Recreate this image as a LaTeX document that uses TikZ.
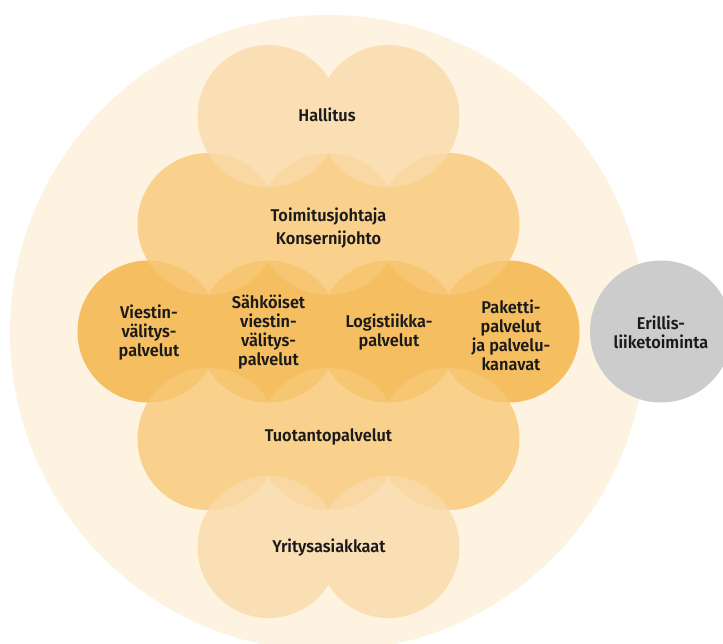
\documentclass[tikz,border=0pt]{standalone}
\usepackage{fontspec}
\setmainfont{Fira Sans}[UprightFont={* SemiBold}, FakeStretch=0.96]
\definecolor{bgc}{RGB}{254,242,224}
\definecolor{rowthree}{RGB}{245,190,96}
\definecolor{rowmid}{RGB}{248,200,120}
\definecolor{rowtop}{RGB}{251,219,169}
\definecolor{greyc}{RGB}{204,204,204}
\definecolor{txt}{RGB}{26,26,26}
\begin{document}
\begin{tikzpicture}[x=1pt,y=-1pt,
  lbl/.style={text=txt, align=center, font=\fontsize{17}{19}\selectfont, inner sep=0pt},
  wide/.style={font=\fontsize{17}{23.3}\selectfont}]
\useasboundingbox (0,0) rectangle (723,643);
\clip (0,0) rectangle (723,643);
% background circle
\fill[bgc] (328,333) circle[radius=318];
% row 3 (services)
\fill[rowthree] (148.5,331.5) circle[radius=71] (268.5,331.5) circle[radius=71]
  (388.5,331.5) circle[radius=71] (508.5,331.5) circle[radius=71];
% rows 2 and 4
\fill[rowmid, fill opacity=0.8]
  (208.5,224) circle[radius=71] (328.5,224) circle[radius=71] (448.5,224) circle[radius=71]
  (208.5,439) circle[radius=71] (328.5,439) circle[radius=71] (448.5,439) circle[radius=71];
% rows 1 and 5
\fill[rowtop, fill opacity=0.8]
  (268.5,116) circle[radius=71] (388.5,116) circle[radius=71]
  (268.5,547) circle[radius=71] (388.5,547) circle[radius=71];
% separate business
\fill[greyc] (661,331.5) circle[radius=71];
% labels
\node[lbl] (hallitus) at (327,115) {Hallitus};
\node[lbl, wide] (toimitus) at (328.5,228) {Toimitusjohtaja\\Konsernijohto};
\node[lbl] (viestin) at (149,333) {Viestin-\\välitys-\\palvelut};
\node[lbl] (sahkoiset) at (268.5,332) {Sähköiset\\viestin-\\välitys-\\palvelut};
\node[lbl] (logistiikka) at (389,332) {Logistiikka-\\palvelut};
\node[lbl] (paketti) at (511,335) {Paketti-\\palvelut\\ja palvelu-\\kanavat};
\node[lbl] (erillis) at (661,332) {Erillis-\\liiketoiminta};
\node[lbl] (tuotanto) at (328.5,437) {Tuotantopalvelut};
\node[lbl] (yritys) at (329,548) {Yritysasiakkaat};
\end{tikzpicture}
\end{document}
